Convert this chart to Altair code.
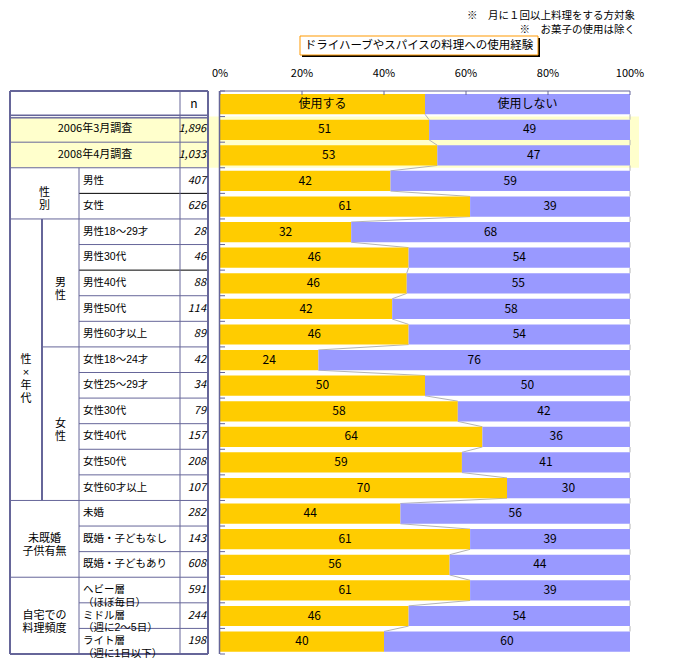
import altair as alt
import pandas as pd

FONT = "Noto Sans CJK JP"
FONT_TABLE = "Liberation Sans, Noto Sans CJK JP"

# ---------------- data ----------------
title_text = "ドライハーブやスパイスの料理への使用経験"
notes = ["※　月に１回以上料理をする方対象", "※　お菓子の使用は除く"]
series = ["使用する", "使用しない"]
series_colors = ["#FFCC00", "#9999FF"]
legend_share = [50, 50]
x_ticks = [0, 20, 40, 60, 80, 100]
x_tick_labels = ["0%", "20%", "40%", "60%", "80%", "100%"]

rows = ["2006年3月調査", "2008年4月調査", "男性", "女性",
        "男性18〜29才", "男性30代", "男性40代", "男性50代", "男性60才以上",
        "女性18〜24才", "女性25〜29才", "女性30代", "女性40代", "女性50代", "女性60才以上",
        "未婚", "既婚・子どもなし", "既婚・子どもあり",
        "ヘビー層\n（ほぼ毎日）", "ミドル層\n（週に2〜5日）", "ライト層\n（週に1日以下）"]
n_values = [1896, 1033, 407, 626, 28, 46, 88, 114, 89, 42, 34, 79, 157, 208, 107,
            282, 143, 608, 591, 244, 198]
use_pct = [51, 53, 42, 61, 32, 46, 46, 42, 46, 24, 50, 58, 64, 59, 70, 44, 61, 56, 61, 46, 40]
notuse_pct = [49, 47, 59, 39, 68, 54, 55, 58, 54, 76, 50, 42, 36, 41, 30, 56, 39, 44, 39, 54, 60]
n_header = "n"

group_labels = ["性\n別", "性\n×\n年\n代", "男\n性", "女\n性", "未既婚\n子供有無", "自宅での\n料理頻度"]
group_first = [3, 5, 5, 10, 16, 19]   # table row numbers (header row = 0)
group_last = [4, 15, 9, 15, 18, 21]
group_col = ["wide", "c1", "c2", "c2", "wide", "wide"]
highlight_first, highlight_last = 1, 2

# ---------------- layout ----------------
N_ROWS = len(rows) + 1
W, H = 410, 563
BAR_TOP, BAR_BOT = 0.12, 0.91
X_LEFT, X_C1, X_C2, X_N, X_RIGHT = -210, -178, -141, -40, -12
X_LABEL, X_NVAL, X_NHDR = -137, -14, -26
X_YEAR = (X_LEFT + X_N) / 2
X_GROUP = {"wide": (X_LEFT + X_C2) / 2, "c1": (X_LEFT + X_C1) / 2, "c2": (X_C1 + X_C2) / 2}
LINE = "#666699"

yscale = alt.Scale(domain=[0, N_ROWS], reverse=True, nice=False, zero=False)
xscale = alt.Scale(domain=[0, 100], nice=False, zero=False)

# bar segments
seg_rows = []
hdr_share = 100 * legend_share[0] / sum(legend_share)
seg_rows.append({"row": 0, "series": series[0], "v0": 0, "v1": hdr_share, "label": series[0]})
seg_rows.append({"row": 0, "series": series[1], "v0": hdr_share, "v1": 100, "label": series[1]})
shares = [hdr_share]
for i, (u, nu) in enumerate(zip(use_pct, notuse_pct), start=1):
    s = 100 * u / (u + nu)
    shares.append(s)
    seg_rows.append({"row": i, "series": series[0], "v0": 0, "v1": s, "label": str(u)})
    seg_rows.append({"row": i, "series": series[1], "v0": s, "v1": 100, "label": str(nu)})
seg = pd.DataFrame(seg_rows)
seg["top"] = seg["row"] + BAR_TOP
seg["bot"] = seg["row"] + BAR_BOT
seg["mid"] = seg["row"] + 0.5
seg["vm"] = (seg["v0"] + seg["v1"]) / 2

# series lines
sl_rows = []
for i in range(len(shares) - 1):
    sl_rows.append({"x0": shares[i], "x1": shares[i + 1], "y0": i + BAR_BOT, "y1": i + 1 + BAR_TOP})
    sl_rows.append({"x0": 100, "x1": 100, "y0": i + BAR_BOT, "y1": i + 1 + BAR_TOP})
sl = pd.DataFrame(sl_rows)

# table lines
h_rows = []
for b in [0, 2, 3, 5, 16, 19, 22]:
    h_rows.append({"y": b, "xa": X_LEFT, "xb": X_RIGHT, "c": LINE, "w": 2 if b in (0, 22) else 1})
h_rows.append({"y": 1, "xa": X_LEFT, "xb": X_RIGHT, "c": LINE, "w": 4})
h_rows.append({"y": 1, "xa": X_LEFT, "xb": X_RIGHT, "c": "#FFFFFF", "w": 1})
for b in [4, 6, 7, 8, 9, 11, 12, 13, 14, 15, 17, 18, 20, 21]:
    h_rows.append({"y": b, "xa": X_C2, "xb": X_RIGHT, "c": "#000000" if b in (4, 7) else LINE, "w": 1})
h_rows.append({"y": 10, "xa": X_C1, "xb": X_RIGHT, "c": LINE, "w": 1})
hl = pd.DataFrame(h_rows)

vl = pd.DataFrame([
    {"x": X_LEFT, "y0": 0, "y1": 22, "w": 2},
    {"x": X_RIGHT, "y0": 0, "y1": 22, "w": 2},
    {"x": X_N, "y0": 0, "y1": 22, "w": 1},
    {"x": X_C2, "y0": 3, "y1": 22, "w": 1},
    {"x": X_C1, "y0": 5, "y1": 16, "w": 2},
])

# table texts
lab = pd.DataFrame({"text": rows, "n": [f"{v:,}" for v in n_values]})
lab["row"] = range(1, len(rows) + 1)
lab["mid"] = lab["row"] + 0.5
lab_left = lab[lab["row"] > highlight_last]
lab_year = lab[lab["row"] <= highlight_last]

grp = pd.DataFrame({"text": group_labels, "first": group_first, "last": group_last, "col": group_col})
grp["mid"] = (grp["first"] + grp["last"] + 1) / 2
grp["x"] = grp["col"].map(X_GROUP)

# ---------------- layers ----------------
spacer = alt.Chart(pd.DataFrame({"a": [0]})).mark_rect(color="#FFFFFF").encode(
    x=alt.value(0), x2=alt.value(1), y=alt.value(-83), y2=alt.value(-82))

band = alt.Chart(pd.DataFrame({"r0": [highlight_first], "r1": [highlight_last + 1]})).mark_rect(
    color="#FFFFCC").encode(
    x=alt.value(X_LEFT), x2=alt.value(W + 9),
    y=alt.Y("r0:Q", scale=yscale, axis=None), y2="r1:Q")

series_lines = alt.Chart(sl).mark_rule(color="#B4B4B4", strokeWidth=1).encode(
    x=alt.X("x0:Q", scale=xscale, axis=None), x2="x1:Q",
    y=alt.Y("y0:Q", scale=yscale, axis=None), y2="y1:Q")

bars = alt.Chart(seg).mark_rect().encode(
    x=alt.X("v0:Q", scale=xscale, axis=None),
    x2="v1:Q",
    y=alt.Y("top:Q", scale=yscale, axis=None), y2="bot:Q",
    color=alt.Color("series:N", scale=alt.Scale(domain=series, range=series_colors), legend=None))

bar_text = alt.Chart(seg).mark_text(font=FONT, fontSize=12, color="#000000").encode(
    x=alt.X("vm:Q", scale=xscale, axis=None),
    y=alt.Y("mid:Q", scale=yscale, axis=None),
    text="label:N")

tick_df = pd.DataFrame({"t": x_ticks, "lab": x_tick_labels})
top_ticks = alt.Chart(tick_df).mark_rule(color=LINE).encode(
    x=alt.X("t:Q", scale=xscale, axis=None), y=alt.value(0), y2=alt.value(4))
tick_labels = alt.Chart(tick_df).mark_text(font=FONT, fontSize=11, color="#000000").encode(
    x=alt.X("t:Q", scale=xscale, axis=None), y=alt.value(-17), text="lab:N")
top_line = alt.Chart(pd.DataFrame({"a": [0], "b": [100]})).mark_rule(color=LINE, strokeWidth=1).encode(
    x=alt.X("a:Q", scale=xscale, axis=None), x2="b:Q", y=alt.value(0))

left_axis = alt.Chart(pd.DataFrame({"a": [0]})).mark_rule(color=LINE, strokeWidth=1.5).encode(
    x=alt.value(-0.5), y=alt.value(0), y2=alt.value(H))

left_ticks = alt.Chart(pd.DataFrame({"b": list(range(0, N_ROWS + 1))})).mark_rule(color=LINE).encode(
    x=alt.value(0), x2=alt.value(5), y=alt.Y("b:Q", scale=yscale, axis=None))

hlines = alt.Chart(hl).mark_rule().encode(
    x=alt.X("xa:Q", scale=None), x2="xb:Q",
    y=alt.Y("y:Q", scale=yscale, axis=None),
    color=alt.Color("c:N", scale=None),
    strokeWidth=alt.StrokeWidth("w:Q", scale=None))

vlines = alt.Chart(vl).mark_rule(color=LINE).encode(
    x=alt.X("x:Q", scale=None),
    y=alt.Y("y0:Q", scale=yscale, axis=None), y2="y1:Q",
    strokeWidth=alt.StrokeWidth("w:Q", scale=None))

row_text = alt.Chart(lab_left).mark_text(font=FONT_TABLE, fontSize=10.5, align="left", lineBreak="\n",
                                         lineHeight=12.5, color="#000000").encode(
    x=alt.value(X_LABEL), y=alt.Y("mid:Q", scale=yscale, axis=None), text="text:N")

year_text = alt.Chart(lab_year).mark_text(font=FONT, fontSize=11, align="center", color="#000000").encode(
    x=alt.value(X_YEAR), y=alt.Y("mid:Q", scale=yscale, axis=None), text="text:N")

n_text = alt.Chart(lab).mark_text(font=FONT, fontSize=11, align="right", fontStyle="italic",
                                  color="#000000").encode(
    x=alt.value(X_NVAL), y=alt.Y("mid:Q", scale=yscale, axis=None), text="n:N")

n_head = alt.Chart(pd.DataFrame({"t": [n_header], "r": [0.5]})).mark_text(
    font=FONT, fontSize=12, color="#000000").encode(
    x=alt.value(X_NHDR), y=alt.Y("r:Q", scale=yscale, axis=None), text="t:N")

group_text = alt.Chart(grp).mark_text(font=FONT_TABLE, fontSize=11, align="center", lineBreak="\n",
                                      lineHeight=13, color="#000000").encode(
    x=alt.X("x:Q", scale=None), y=alt.Y("mid:Q", scale=yscale, axis=None), text="text:N")

title_df = pd.DataFrame({"t": [title_text]})
title_shadow = alt.Chart(title_df).mark_rect(color="#000000").encode(
    x=alt.value(82), x2=alt.value(320), y=alt.value(-53), y2=alt.value(-34))
title_box = alt.Chart(title_df).mark_rect(fill="#FFFFFF", stroke="#FF9900", strokeWidth=1).encode(
    x=alt.value(80), x2=alt.value(318), y=alt.value(-55), y2=alt.value(-36))
title_txt = alt.Chart(title_df).mark_text(font=FONT, fontSize=11.5, color="#000000").encode(
    x=alt.value(199), y=alt.value(-45.5), text="t:N")

note_df = pd.DataFrame({"t": notes, "k": [0, 1]})
note1 = alt.Chart(note_df[note_df.k == 0]).mark_text(
    font=FONT, fontSize=10.5, align="right", baseline="top", color="#000000").encode(
    x=alt.value(415), y=alt.value(-80), text="t:N")
note2 = alt.Chart(note_df[note_df.k == 1]).mark_text(
    font=FONT, fontSize=10.5, align="right", baseline="top", color="#000000").encode(
    x=alt.value(415), y=alt.value(-66), text="t:N")

chart = alt.layer(
    spacer, band, series_lines, bars, bar_text, top_line, top_ticks, tick_labels, left_axis, left_ticks,
    hlines, vlines, row_text, year_text, n_text, n_head, group_text,
    title_shadow, title_box, title_txt, note1, note2
).properties(
    width=W, height=H,
    padding={"left": 0, "top": 0, "right": 5, "bottom": 0},
    background="#FFFFFF"
).configure_view(stroke=None)

chart.save("out.html", embed_options={"renderer": "svg", "actions": False})
